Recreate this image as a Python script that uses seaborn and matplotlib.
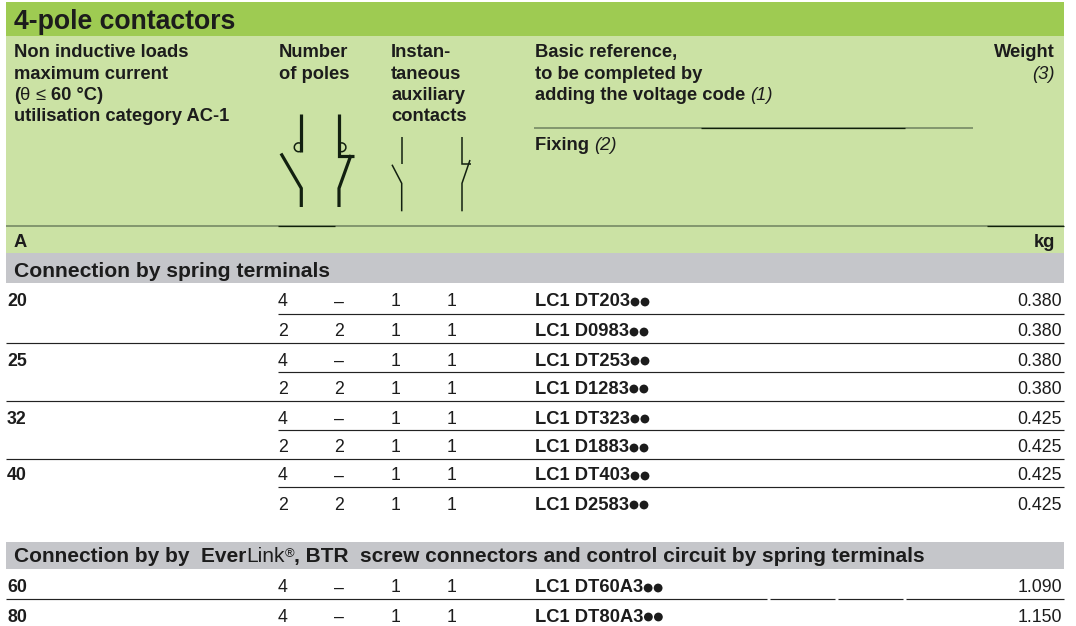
import matplotlib
matplotlib.use("Agg")
import matplotlib.pyplot as plt
from matplotlib.patches import Rectangle, Arc
import seaborn as sns

# ---------- data ----------
currents = ["20", "", "25", "", "32", "", "40", "", "60", "80"]
poles_a = ["4", "2", "4", "2", "4", "2", "4", "2", "4", "4"]
poles_b = ["–", "2", "–", "2", "–", "2", "–", "2", "–", "–"]
aux_no = ["1"] * 10
aux_nc = ["1"] * 10
references = ["LC1 DT203", "LC1 D0983", "LC1 DT253", "LC1 D1283", "LC1 DT323",
              "LC1 D1883", "LC1 DT403", "LC1 D2583", "LC1 DT60A3", "LC1 DT80A3"]
weights = ["0.380", "0.380", "0.380", "0.380", "0.425",
           "0.425", "0.425", "0.425", "1.090", "1.150"]
title = "4-pole contactors"
col1_head = ["Non inductive loads", "maximum current", None, "utilisation category AC-1"]
col2_head = ["Number", "of poles"]
col3_head = ["Instan-", "taneous", "auxiliary", "contacts"]
section1 = "Connection by spring terminals"

# ---------- layout (pixels) ----------
W, H = 1076, 626
row_y = [300, 330, 359, 387, 417, 446, 474, 503, 586, 615]
rule_long = [343, 401, 459, 599]
rule_short = [314, 372, 430, 487]
ink = "#1c1c1c"
FONT = ["Liberation Sans", "DejaVu Sans"]
HS = 13.2

sns.set_theme(style="white")
plt.rcParams["font.family"] = FONT
fig = plt.figure(figsize=(W / 100, H / 100), dpi=100, facecolor="white")
ax = fig.add_axes([0, 0, 1, 1])
ax.set_xlim(0, W)
ax.set_ylim(H, 0)
ax.axis("off")
sns.despine(ax=ax, left=True, bottom=True)


def band(x0, x1, y0, y1, color):
    ax.add_patch(Rectangle((x0, y0), x1 - x0, y1 - y0, fc=color, ec="none", zorder=0))


band(6, 1064, 2, 36, "#9ECB52")
band(6, 1064, 36, 253, "#CBE2A4")
band(6, 1064, 253, 283, "#C5C6CA")
band(6, 1064, 542, 569, "#C5C6CA")


def T(x, y, s, size=HS, weight="bold", style="normal", ha="left", color=ink):
    return ax.text(x, y, s, fontsize=size, fontweight=weight, fontstyle=style,
                   ha=ha, va="baseline", color=color, zorder=3)


def runs(x, y, parts, size=HS):
    r = fig.canvas.get_renderer()
    for s, w, st in parts:
        if s == "®":
            t = T(x, y - 5, s, size=size * 0.62, weight="normal")
        else:
            t = T(x, y, s, size=size, weight=w, style=st)
        x += t.get_window_extent(r).width


# title and headers
T(14, 29, title, size=19.2)
for yy, line in zip([57, 79, 100, 121], col1_head):
    if line:
        T(14, yy, line)
runs(14, 100, [("(", "bold", "normal"), ("θ ", "normal", "normal"),
               ("≤ ", "normal", "normal"), ("60 °C)", "bold", "normal")])
for yy, line in zip([57, 79], col2_head):
    T(279, yy, line)
for yy, line in zip([57, 79, 100, 121], col3_head):
    T(391, yy, line)
T(535, 57, "Basic reference,")
T(535, 79, "to be completed by")
runs(535, 100, [("adding the voltage code ", "bold", "normal"), ("(1)", "normal", "italic")])
runs(535, 150, [("Fixing ", "bold", "normal"), ("(2)", "normal", "italic")])
T(1055, 57, "Weight", ha="right")
T(1055, 79, "(3)", weight="normal", style="italic", ha="right")
T(14, 247, "A")
T(1055, 247, "kg", ha="right")

# section bars
T(14, 277, section1, size=15.2)
runs(14, 562.5, [("Connection by by  Ever", "bold", "normal"), ("Link", "normal", "normal"),
                 ("®", "normal", "normal"),
                 (", BTR  screw connectors and control circuit by spring terminals", "bold", "normal")],
     size=15.0)

# header rules
ax.hlines(226, 6, 1064, color="#6F8260", lw=1.1, zorder=2)
ax.hlines(225.6, 278, 335, color="#10200a", lw=0.9, zorder=2)
ax.hlines(225.6, 987, 1064, color="#10200a", lw=0.9, zorder=2)
ax.hlines(128, 534, 973, color="#6F8260", lw=1.1, zorder=2)
ax.hlines(127.7, 701, 905, color="#10200a", lw=0.9, zorder=2)

# table rules
ax.hlines(rule_long[:3], 6, 1064, color="#222222", lw=0.85, zorder=2)
ax.hlines(rule_short, 278, 1064, color="#222222", lw=0.85, zorder=2)
for a, b in [(6, 766.5), (770, 835), (838, 903), (906, 1064)]:
    ax.hlines(599, a, b, color="#222222", lw=0.85, zorder=2)

# table rows
for i, y in enumerate(row_y):
    base = y + 6.5
    if currents[i]:
        T(7, base, currents[i], size=12.8)
    T(278, base, poles_a[i], weight="normal", size=12.8)
    T(339, base, poles_b[i], weight="normal", size=12.8, ha="center")
    T(396, base, aux_no[i], weight="normal", size=12.8, ha="center")
    T(452, base, aux_nc[i], weight="normal", size=12.8, ha="center")
    t = T(535, base, references[i], size=13.2)
    end = t.get_window_extent(fig.canvas.get_renderer()).x1
    for k in range(2):
        ax.add_patch(plt.Circle((end + 5 + 10 * k, y + 2), 4.4, fc=ink, ec="none", zorder=3))
    T(1062, base, weights[i], weight="normal", size=12.8, ha="right")


# contact symbols
def P(xs, ys, lw):
    ax.plot(xs, ys, color="#122010", lw=lw, solid_capstyle="butt", solid_joinstyle="miter", zorder=3)


thick, thin = 2.3, 1.1
P([301.3, 301.3], [114, 152], thick)
P([281, 301.3, 301.3], [153.5, 188.3, 207], thick)
P([339, 339, 354], [114, 155.7, 155.7], thick)
P([351, 339, 339], [155, 188.3, 207], thick)
P([401.7, 401.7], [136.7, 164], thin)
P([392, 401.7, 401.7], [164.7, 183.3, 211.3], thin)
P([462, 462, 471.3], [136.7, 164, 164], thin)
P([470, 462, 462], [160, 183.3, 211.3], thin)
ax.add_patch(Arc((298.7, 147.3), 8.8, 8.8, theta1=50, theta2=310, ec="#122010", lw=1.1, zorder=3))
ax.add_patch(Arc((341.5, 147.3), 8.8, 8.8, theta1=-130, theta2=130, ec="#122010", lw=1.1, zorder=3))

fig.savefig("out.png", dpi=100)
